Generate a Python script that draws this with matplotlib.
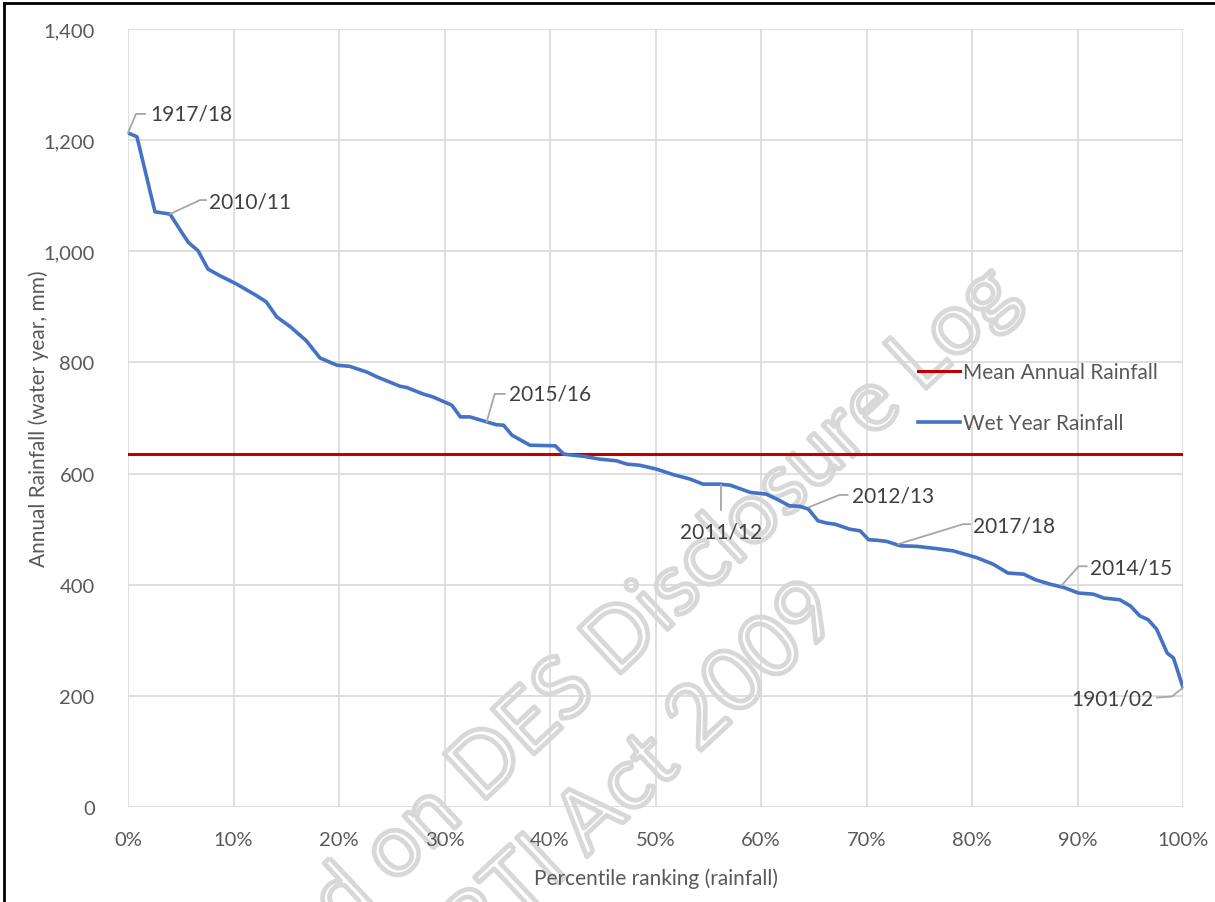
import numpy as np
import matplotlib.pyplot as plt
import matplotlib.patheffects as pe
from matplotlib.lines import Line2D
from matplotlib.ticker import FuncFormatter

plt.rcParams['font.family'] = ['Lato', 'DejaVu Sans']

# --- data ---
pct = [0.0, 0.85, 2.56, 3.98, 5.09, 5.72, 6.64, 7.58, 8.72, 10.3, 12.2, 13.1, 14.1, 15.4,
       16.9, 18.2, 19.8, 21.0, 22.6, 23.6, 25.8, 26.4, 28.0, 28.9, 30.7, 31.5, 32.4, 34.0,
       34.9, 35.6, 36.4, 38.1, 40.5, 41.3, 43.2, 44.7, 46.3, 47.3, 48.5, 50.1, 51.7, 53.3,
       54.5, 56.1, 57.1, 59.0, 60.5, 61.5, 62.7, 63.7, 64.5, 65.4, 66.2, 67.0, 68.4, 69.4,
       70.2, 71.0, 71.9, 73.2, 74.8, 76.6, 78.2, 80.4, 82.0, 83.4, 84.9, 86.0, 87.4, 88.7,
       90.1, 91.5, 92.5, 94.0, 95.0, 95.9, 96.7, 97.5, 98.5, 99.1, 100.0]
rain = [1213, 1206, 1071, 1067, 1034, 1016, 1001, 968, 956, 941, 920, 909, 882, 864,
        839, 808, 795, 793, 783, 774, 757, 755, 743, 738, 723, 702, 702, 693,
        688, 687, 669, 651, 650, 635, 631, 626, 623, 617, 615, 608, 598, 590,
        581, 581, 579, 566, 563, 554, 542, 541, 536, 515, 511, 509, 500, 497,
        481, 480, 478, 470, 469, 465, 461, 449, 437, 421, 419, 409, 401, 395,
        385, 383, 376, 373, 362, 344, 337, 320, 277, 268, 215]
mean_rain = 635

# labelled years: (label, percentile, rainfall)
years = ['1917/18', '2010/11', '2015/16', '2011/12', '2012/13', '2017/18', '2014/15', '1901/02']
year_pct = [0.0, 3.98, 34.0, 56.2, 64.6, 73.0, 88.5, 100.0]
year_rain = [1213, 1067, 693, 580, 540, 473, 399, 215]

# leader line pixel offsets from the point, and text offset/alignment
leaders = [[(0, 0), (8, 19), (17, 19)],
           [(0, 0), (30, 14), (36, 14)],
           [(0, 0), (8, 28), (18, 28)],
           [(0, 0), (0, -25)],
           [(0, 0), (30, 12), (38, 12)],
           [(0, 0), (65, 20), (72, 20)],
           [(0, 0), (17, 19), (25, 19)],
           [(0, 0), (-11, -9), (-26, -10)]]
text_off = [(22, 19, 'left'), (39, 13, 'left'), (22, 28, 'left'), (0, -47, 'center'),
            (42, 11, 'left'), (75, 19, 'left'), (28, 18, 'left'), (-30, -11, 'right')]

W, H = 1215, 903
fig = plt.figure(figsize=(W / 100, H / 100), dpi=100)
ax = fig.add_axes([128 / W, 1 - 808 / H, (1183 - 128) / W, (808 - 30) / H])
ax.set_facecolor('none')

ax.axhline(mean_rain, color='#C00000', lw=2.2, label='Mean Annual Rainfall', zorder=3)
ax.plot(pct, rain, color='#4472C4', lw=2.6, label='Wet Year Rainfall', zorder=4,
        solid_joinstyle='round')

ax.set_xlim(0, 100)
ax.set_ylim(0, 1400)
ax.set_xticks(np.arange(0, 101, 10))
ax.set_yticks(np.arange(0, 1401, 200))
ax.xaxis.set_major_formatter(FuncFormatter(lambda v, p: f'{v:.0f}%'))
ax.yaxis.set_major_formatter(FuncFormatter(lambda v, p: f'{v:,.0f}'))
ax.grid(True, color='#D9D9D9', lw=1.2, zorder=1)
ax.set_axisbelow(True)
for s in ax.spines.values():
    s.set_visible(False)
ax.tick_params(axis='both', length=0, labelsize=14.5, colors='#595959')
ax.tick_params(axis='y', pad=24)
ax.tick_params(axis='x', pad=17)
ax.set_xlabel('Percentile ranking (rainfall)', fontsize=15, color='#595959', labelpad=14)
ax.set_ylabel('Annual Rainfall (water year, mm)', fontsize=15, color='#595959', labelpad=-4)

ax.legend(loc='upper left', bbox_to_anchor=(918 / W, 1 - 363 / H),
          bbox_transform=fig.transFigure, frameon=False, fontsize=15,
          handlelength=2.0, handletextpad=0.15, labelspacing=1.5,
          borderpad=0, borderaxespad=0, labelcolor='#595959')

# annotations with leader lines
for lab, xv, yv, lead, (tx, ty, ha) in zip(years, year_pct, year_rain, leaders, text_off):
    px, py = ax.transData.transform((xv, yv))
    xs = [px + dx for dx, dy in lead]
    ys = [py + dy for dx, dy in lead]
    fig.add_artist(Line2D(xs, ys, transform=None, color='#A6A6A6', lw=1.3, zorder=5))
    ax.annotate(lab, xy=(xv, yv), xytext=(tx, ty), textcoords='offset pixels',
                ha=ha, va='center', fontsize=15, color='#404040', zorder=6)

# watermark (outline-only letters)
wm = dict(fontsize=62, color=(1, 1, 1, 0), rotation=43, rotation_mode='anchor',
          ha='right', va='baseline', zorder=-1,
          path_effects=[pe.Stroke(linewidth=3.4, foreground='#D8D8D8')])
fig.text(1022 / W, 1 - 300 / H, 'Released on DES Disclosure Log', **wm)
fig.text(844 / W, 1 - 618 / H, 'RTI Act 2009', **wm)

# black frame at top and left
fig.add_artist(Line2D([4 / W, 4 / W], [0, 1 - 4 / H], transform=fig.transFigure, color='black', lw=2))
fig.add_artist(Line2D([4 / W, 1], [1 - 4 / H, 1 - 4 / H], transform=fig.transFigure, color='black', lw=2))

fig.savefig('out.png', dpi=100)
